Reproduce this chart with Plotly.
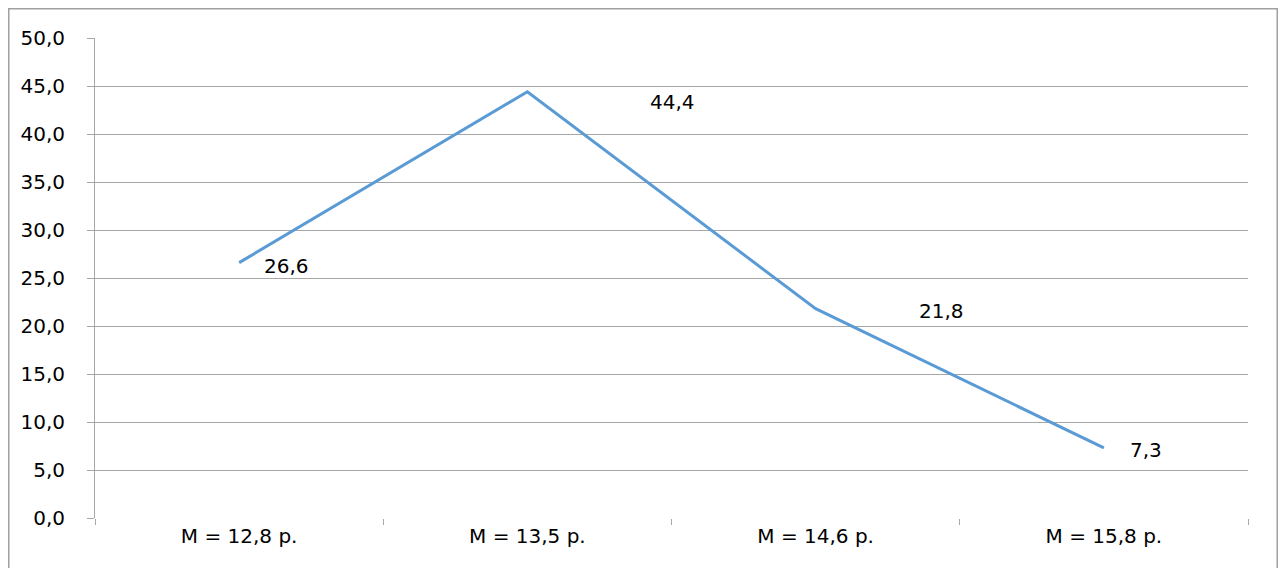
import plotly.graph_objects as go

categories = ["M = 12,8 р.", "M = 13,5 р.", "M = 14,6 р.", "M = 15,8 р."]
values = [26.6, 44.4, 21.8, 7.3]
labels = ["26,6", "44,4", "21,8", "7,3"]
label_xshift = [23, 121, 101, 24]
label_yshift = [-3, -10, -2, -2]

FONT = "DejaVu Sans"
GRID = "#a6a6a6"

# page body has an 8px margin; figure is sized/margined to compensate
W, H = 1270, 560
L, R, T, B = 87, 30, 30, 50
PW, PH = W - L - R, H - T - B

fig = go.Figure()
fig.add_trace(go.Scatter(
    x=categories, y=values, mode="lines",
    line=dict(color="#5b9bd5", width=3),
    hoverinfo="skip", showlegend=False,
))

for c, v, t, dx, dy in zip(categories, values, labels, label_xshift, label_yshift):
    fig.add_annotation(x=c, y=v, text=t, showarrow=False, xanchor="left",
                       yanchor="middle", xshift=dx, yshift=dy,
                       font=dict(family=FONT, size=20, color="#000000"))

fig.update_layout(
    width=W, height=H,
    margin=dict(l=L, r=R, t=T, b=B, pad=0),
    paper_bgcolor="white", plot_bgcolor="white",
    separators=", ",
    font=dict(family=FONT, size=20, color="#000000"),
    xaxis=dict(
        type="category", range=[-0.5, 3.5],
        tickson="boundaries", ticks="outside", ticklen=6, tickcolor=GRID,
        tickwidth=1, showgrid=False, showline=False, zeroline=False,
        ticklabelstandoff=4,
    ),
    yaxis=dict(
        range=[0, 50], dtick=5, tick0=0, tickformat=".1f",
        ticks="outside", ticklen=7, tickcolor=GRID, tickwidth=1,
        showgrid=True, gridcolor=GRID, gridwidth=1,
        showline=True, linecolor=GRID, linewidth=1,
        zeroline=False, ticklabelstandoff=18,
    ),
)

# outer chart border
fig.add_shape(type="rect", xref="paper", yref="paper",
              x0=(0.75 - L) / PW, x1=(W - 0.75 - L) / PW,
              y0=-(B + 30) / PH, y1=(PH + T - 0.75) / PH,
              line=dict(color="#a0a0a0", width=1.5), layer="below")

fig.write_html("out.html")
